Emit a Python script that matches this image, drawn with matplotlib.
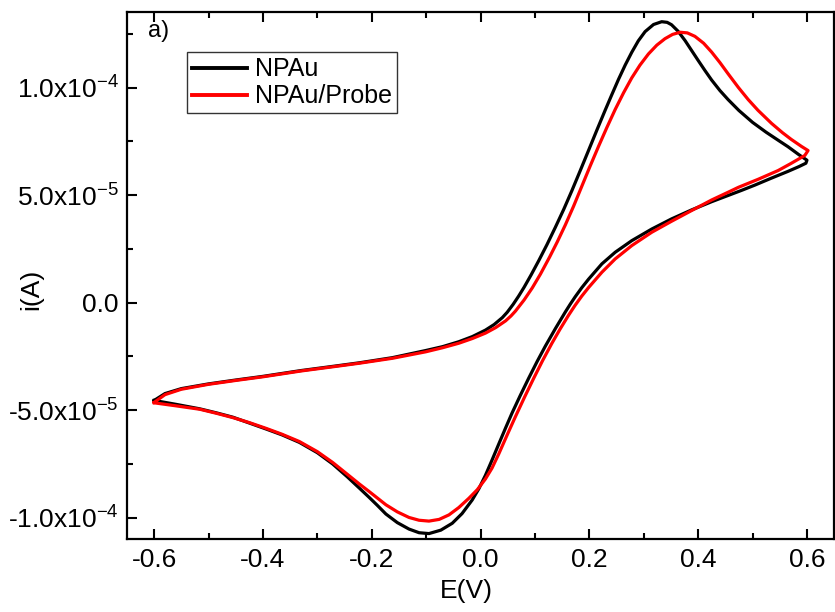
import numpy as np
import matplotlib
matplotlib.use('Agg')
import matplotlib.pyplot as plt
from matplotlib.ticker import MultipleLocator, FixedLocator

plt.rcParams['font.family'] = ['Liberation Sans', 'DejaVu Sans']
plt.rcParams['mathtext.fontset'] = 'custom'
plt.rcParams['mathtext.rm'] = 'Liberation Sans'
plt.rcParams['mathtext.it'] = 'Liberation Sans:italic'

# Cyclic voltammograms: potential (V), current (uA)
# NPAu: forward scan -0.6 -> 0.6 V then reverse scan back to -0.6 V
npau_E = [-0.60, -0.58, -0.55, -0.50, -0.45, -0.40, -0.33, -0.27, -0.223, -0.162,
          -0.101, -0.07, -0.04, -0.015, 0.009, 0.025, 0.040, 0.049, 0.060, 0.070,
          0.080, 0.093, 0.107, 0.122, 0.1375, 0.153, 0.168, 0.183, 0.1986, 0.214,
          0.229, 0.241, 0.2536, 0.266, 0.278, 0.290, 0.3025, 0.318, 0.333, 0.343,
          0.351, 0.363, 0.376, 0.388, 0.40, 0.4125, 0.4247, 0.44, 0.455, 0.475,
          0.50, 0.525, 0.547, 0.565, 0.585, 0.60,
          0.598, 0.585, 0.565, 0.535, 0.504, 0.48, 0.455, 0.4247, 0.388, 0.351,
          0.3147, 0.278, 0.2475, 0.223, 0.1986, 0.186, 0.174, 0.165, 0.156, 0.138,
          0.119, 0.104, 0.0886, 0.073, 0.058, 0.046, 0.0336, 0.021, 0.009, -0.003,
          -0.0154, -0.034, -0.052, -0.073, -0.0948, -0.113, -0.1315, -0.153, -0.174, -0.19,
          -0.205, -0.223, -0.245, -0.272, -0.30, -0.333, -0.365, -0.394, -0.425, -0.455,
          -0.485, -0.516, -0.56, -0.60]
npau_i = [-45.5, -42.3, -40.0, -37.8, -36.0, -34.3, -31.6, -29.6, -28.0, -25.6,
          -22.3, -20.5, -18.2, -15.8, -12.8, -10.2, -7.0, -4.5, -0.8, 3.0,
          7.1, 12.9, 19.5, 26.9, 35.0, 43.4, 52.1, 61.2, 70.8, 80.3,
          89.4, 96.5, 103.8, 110.5, 116.4, 121.7, 126.0, 129.3, 130.6, 130.3,
          129.2, 126.2, 121.8, 117.2, 112.6, 107.9, 103.5, 98.6, 94.4, 89.3,
          83.8, 79.2, 75.5, 72.5, 68.8, 66.2,
          64.8, 63.2, 61.0, 57.9, 54.6, 52.2, 49.8, 46.9, 43.1, 38.9,
          34.2, 28.8, 23.4, 18.0, 10.9, 6.9, 2.7, -0.7, -4.3, -11.9,
          -20.3, -27.4, -35.1, -43.2, -51.3, -58.3, -65.7, -73.3, -80.3, -86.5,
          -91.8, -98.1, -102.6, -105.8, -107.4, -107.0, -105.3, -102.3, -98.3, -94.2,
          -90.5, -86.2, -81.0, -75.0, -69.8, -65.0, -61.5, -58.8, -56.0, -53.3,
          -51.3, -49.4, -47.3, -45.5]

# NPAu/Probe
probe_E = [-0.60, -0.58, -0.55, -0.50, -0.45, -0.40, -0.33, -0.27, -0.223, -0.162,
           -0.101, -0.07, -0.04, -0.015, 0.009, 0.028, 0.046, 0.056, 0.064, 0.080,
           0.095, 0.110, 0.127, 0.141, 0.156, 0.171, 0.186, 0.2015, 0.217, 0.232,
           0.2475, 0.263, 0.278, 0.293, 0.3086, 0.324, 0.339, 0.353, 0.367, 0.380,
           0.394, 0.41, 0.4247, 0.44, 0.455, 0.474, 0.492, 0.51, 0.535, 0.555,
           0.571, 0.59, 0.602,
           0.596, 0.57, 0.547, 0.51, 0.474, 0.455, 0.4247, 0.388, 0.351, 0.3147,
           0.278, 0.2475, 0.223, 0.1986, 0.186, 0.174, 0.162, 0.146, 0.131, 0.114,
           0.0977, 0.081, 0.064, 0.049, 0.0336, 0.021, 0.009, -0.006, -0.0215, -0.04,
           -0.058, -0.076, -0.0948, -0.113, -0.1315, -0.153, -0.174, -0.19, -0.205, -0.223,
           -0.245, -0.272, -0.30, -0.333, -0.365, -0.394, -0.425, -0.455, -0.485, -0.516,
           -0.56, -0.60]
probe_i = [-46.4, -42.8, -40.3, -38.0, -36.2, -34.5, -31.8, -29.8, -28.2, -25.9,
           -22.9, -21.0, -18.9, -16.7, -14.2, -11.6, -8.5, -6.2, -4.0, 1.2,
           6.8, 13.2, 21.2, 28.2, 36.2, 44.8, 54.0, 63.5, 72.7, 81.3,
           89.8, 97.6, 104.5, 110.4, 115.6, 119.7, 122.7, 124.7, 125.7, 125.4,
           123.8, 120.6, 116.5, 111.6, 106.4, 100.0, 94.4, 89.4, 83.3, 79.0,
           75.9, 72.6, 70.7,
           68.4, 64.6, 61.4, 57.3, 53.6, 51.3, 47.7, 42.8, 37.8, 32.7,
           26.5, 20.3, 14.1, 7.0, 3.0, -1.2, -5.8, -12.4, -19.0, -27.0,
           -35.2, -43.9, -53.1, -61.5, -70.3, -77.0, -82.0, -87.0, -91.0, -95.3,
           -98.7, -100.8, -101.6, -101.2, -99.9, -97.3, -94.0, -90.8, -87.8, -84.3,
           -79.8, -74.3, -69.3, -64.6, -61.2, -58.5, -55.8, -53.5, -51.5, -49.6,
           -48.0, -46.6]

y_ticks = [-1.0e-4, -5.0e-5, 0.0, 5.0e-5, 1.0e-4]
y_labels = ['-1.0x10$^{-4}$', '-5.0x10$^{-5}$', '0.0', '5.0x10$^{-5}$', '1.0x10$^{-4}$']
x_ticks = [-0.6, -0.4, -0.2, 0.0, 0.2, 0.4, 0.6]
x_labels = ['-0.6', '-0.4', '-0.2', '0.0', '0.2', '0.4', '0.6']

fig = plt.figure(figsize=(8.35, 6.12), dpi=100)
ax = fig.add_axes([0.152, 0.119, 0.847, 0.861])

ax.plot(npau_E, np.array(npau_i) * 1e-6, color='black', lw=2.3, label='NPAu')
ax.plot(probe_E, np.array(probe_i) * 1e-6, color='#ff0000', lw=2.3, label='NPAu/Probe')

ax.set_xlim(-0.65, 0.65)
ax.set_ylim(-1.1e-4, 1.35e-4)

ax.xaxis.set_major_locator(FixedLocator(x_ticks))
ax.xaxis.set_minor_locator(MultipleLocator(0.1))
ax.set_xticklabels(x_labels)
ax.set_yticks(y_ticks)
ax.set_yticklabels(y_labels)
ax.yaxis.set_minor_locator(MultipleLocator(2.5e-5))

ax.tick_params(which='both', direction='in', labelsize=19, width=1.5,
               top=True, right=False)
ax.tick_params(which='major', length=7, pad=6)
ax.tick_params(which='minor', length=4)
for side in ['left', 'bottom', 'top', 'right']:
    ax.spines[side].set_linewidth(1.6)

ax.set_xlabel('E(V)', fontsize=19)
ax.set_ylabel('i(A)', fontsize=19)
ax.xaxis.set_label_coords(0.48, -0.075)
ax.yaxis.set_label_coords(-0.118, 0.475)

ax.text(0.03, 0.985, 'a)', transform=ax.transAxes, fontsize=17, va='top', ha='left')

leg = ax.legend(loc='upper left', bbox_to_anchor=(0.085, 0.924), fontsize=18,
                frameon=True, fancybox=False, edgecolor='black', borderpad=0.2,
                handlelength=2.2, handletextpad=0.3, labelspacing=0.12,
                borderaxespad=0)
leg.get_frame().set_linewidth(1.0)
for line in leg.get_lines():
    line.set_linewidth(2.8)

fig.savefig('out.png', dpi=100)
